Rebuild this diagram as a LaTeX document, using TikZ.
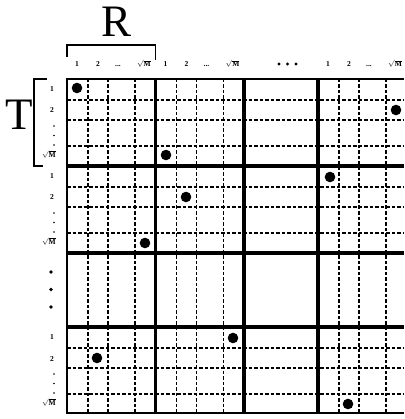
\documentclass[tikz,border=0pt]{standalone}
\usepackage{fontspec}
\setmainfont{Liberation Serif}
\usetikzlibrary{positioning}

\begin{document}
\begin{tikzpicture}[x=1pt,y=-1pt,
    gridthick/.style={line width=3.1pt},
    gridedge/.style={line width=2.3pt,line join=miter},
    griddash/.style={line width=1.1pt,dash pattern=on 3.5pt off 2pt},
    brack/.style={line width=1.2pt},
    lbl/.style={font=\fontsize{7.5}{7.5}\selectfont\bfseries,inner sep=0pt,anchor=base},
    bigletter/.style={font=\fontsize{45}{45}\selectfont,inner sep=0pt}]

  \useasboundingbox (0,0) rectangle (404,419);

  %-------------------- siatka --------------------
  % Linie przerywane w blokach
  \foreach \bx in {67,155.5,318}{
    \foreach \dx in {21,41,68}{
        \draw[griddash] ({\bx+\dx},79) -- ({\bx+\dx},413);
    }
  }
  \foreach \by in {79,166,327}{
    \foreach \dy in {21,41,67}{
        \draw[griddash] (67,{\by+\dy}) -- (404,{\by+\dy});
    }
  }

  % Grube granice blokow
  \foreach \bx in {155.5,244,318}{
    \draw[gridthick] (\bx,79) -- (\bx,413);
  }
  \foreach \by in {166,253,327}{
    \draw[gridthick] (67,\by) -- (404,\by);
  }

  % Ramka
  \draw[gridedge] (404,79) -- (67,79) -- (67,413) -- (404,413);

  %-------------------- opisy --------------------
  % Kolumny
  \foreach \bx/\b in {67/a,155.5/b,318/c}{
    \node[lbl] (col-\b-1) at ({\bx+10},67) {1};
    \node[lbl] (col-\b-2) at ({\bx+31},67) {2};
    \node[lbl] (col-\b-3) at ({\bx+51},67) {...};
    \node[lbl] (col-\b-4) at ({\bx+77},67) {$\sqrt{\mathbf{M}}$};
  }
  \foreach \x in {279,287.5,296}{
    \fill (\x,64) circle (1.7pt);
  }

  % Wiersze
  \foreach \by/\b in {79/a,166/b,327/c}{
    \node[lbl] (row-\b-1) at (52,{\by+12.5}) {1};
    \node[lbl] (row-\b-2) at (52,{\by+34}) {2};
    \node[lbl] (row-\b-4) at (49,{\by+78.5}) {$\sqrt{\mathbf{M}}$};
    \foreach \dy in {47,56.5,66}{
        \fill (54,{\by+\dy}) circle (0.8pt);
    }
  }
  \foreach \y in {272,289.5,307}{
    \fill (51,\y) circle (1.9pt);
  }

  % Klamry R i T
  \draw[brack] (67,57) -- (67,45) -- (155.5,45) -- (155.5,60);
  \node[bigletter] (R) at (117,22) {R};

  \draw[brack] (47,79) -- (34,79) -- (34,166) -- (43,166);
  \node[bigletter] (T) at (19,115) {T};

  %-------------------- punkty --------------------
  \foreach \x/\y in {77/88, 166/155, 396/110, 330/177, 186/197,
                     145/243, 97/358, 233/338, 348/404}{
    \fill (\x,\y) circle (5.3pt);
  }

\end{tikzpicture}
\end{document}
